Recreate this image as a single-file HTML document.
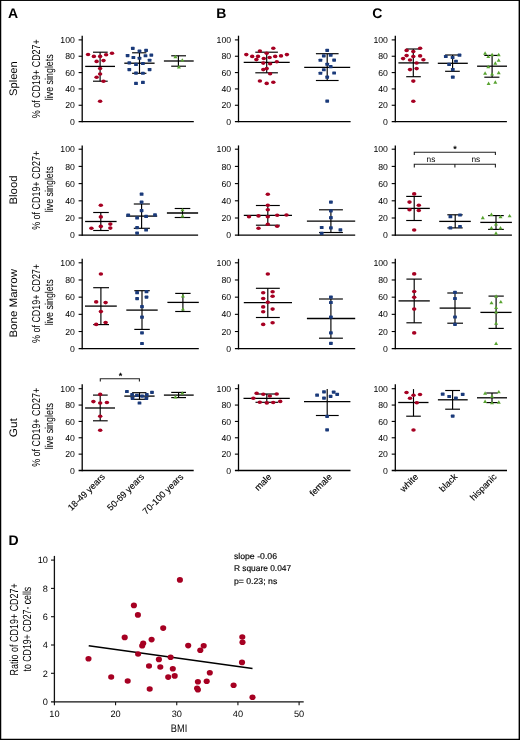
<!DOCTYPE html>
<html><head><meta charset="utf-8"><title>Figure</title>
<style>
html,body{margin:0;padding:0;background:#fff;-webkit-font-smoothing:antialiased;}
body{width:520px;height:740px;overflow:hidden;position:relative;}
svg{position:absolute;left:0;top:0;display:block;will-change:transform;}
text{font-family:"Liberation Sans", sans-serif;fill:#000;text-rendering:geometricPrecision;}
.tk{font-size:8.7px;}
.tkx{font-size:9.2px;}
.cat{font-size:9.1px;stroke:#000;stroke-width:0.12px;}
.row{font-size:10.9px;}
.yl{font-size:11.4px;}
.yl2{font-size:11.7px;}
.pl{font-size:14px;font-weight:bold;fill:#000;}
.ns{font-size:8.3px;}
.star{font-size:9px;font-weight:bold;}
.st{font-size:8.4px;stroke:#000;stroke-width:0.15px;}
.bmi{font-size:11px;}
</style></head>
<body>
<svg width="520" height="740" viewBox="0 0 520 740">
<rect x="0" y="0" width="520" height="740" fill="#fff"/>
<rect x="0" y="0" width="1.25" height="740" fill="#000"/><rect x="0" y="0" width="520" height="0.95" fill="#000"/><rect x="518.6" y="0" width="1.4" height="740" fill="#000"/><rect x="0" y="738.75" width="520" height="1.25" fill="#000"/>
<path d="M82.2 35.7V122.25" stroke="#000" stroke-width="1.3" fill="none"/>
<path d="M78.6 121.6H193.8" stroke="#000" stroke-width="1.3" fill="none"/>
<text x="74.8" y="124.7" text-anchor="end" class="tk">0</text>
<path d="M78.6 105.26H82.2" stroke="#000" stroke-width="1.1" fill="none"/>
<text x="74.8" y="108.36" text-anchor="end" class="tk">20</text>
<path d="M78.6 88.92H82.2" stroke="#000" stroke-width="1.1" fill="none"/>
<text x="74.8" y="92.02" text-anchor="end" class="tk">40</text>
<path d="M78.6 72.58H82.2" stroke="#000" stroke-width="1.1" fill="none"/>
<text x="74.8" y="75.68" text-anchor="end" class="tk">60</text>
<path d="M78.6 56.24H82.2" stroke="#000" stroke-width="1.1" fill="none"/>
<text x="74.8" y="59.34" text-anchor="end" class="tk">80</text>
<path d="M78.6 39.9H82.2" stroke="#000" stroke-width="1.1" fill="none"/>
<text x="74.8" y="43" text-anchor="end" class="tk">100</text>
<path d="M100.1 52.2V81.2" stroke="#000" stroke-width="1.15" fill="none"/>
<path d="M93 52.2H107.7" stroke="#000" stroke-width="1.15" fill="none"/>
<path d="M93 81.2H107.7" stroke="#000" stroke-width="1.15" fill="none"/>
<path d="M85.2 66.4H115" stroke="#000" stroke-width="1.3" fill="none"/>
<ellipse cx="88.05" cy="54.5" rx="2.25" ry="1.8" fill="#a60022"/>
<ellipse cx="93.85" cy="56.4" rx="2.25" ry="1.8" fill="#a60022"/>
<ellipse cx="100.1" cy="56.4" rx="2.25" ry="1.8" fill="#a60022"/>
<ellipse cx="106.1" cy="54.8" rx="2.25" ry="1.8" fill="#a60022"/>
<ellipse cx="112" cy="53.2" rx="2.25" ry="1.8" fill="#a60022"/>
<ellipse cx="96.6" cy="61.4" rx="2.25" ry="1.8" fill="#a60022"/>
<ellipse cx="103.5" cy="60.6" rx="2.25" ry="1.8" fill="#a60022"/>
<ellipse cx="100.1" cy="68.5" rx="2.25" ry="1.8" fill="#a60022"/>
<ellipse cx="100.1" cy="74" rx="2.25" ry="1.8" fill="#a60022"/>
<ellipse cx="96.6" cy="77.3" rx="2.25" ry="1.8" fill="#a60022"/>
<ellipse cx="103.5" cy="81.2" rx="2.25" ry="1.8" fill="#a60022"/>
<ellipse cx="100.1" cy="101.2" rx="2.25" ry="1.8" fill="#a60022"/>
<path d="M139.5 52.8V73.3" stroke="#000" stroke-width="1.15" fill="none"/>
<path d="M132.1 52.8H146.4" stroke="#000" stroke-width="1.15" fill="none"/>
<path d="M132.1 73.3H146.4" stroke="#000" stroke-width="1.15" fill="none"/>
<path d="M124.3 63.2H154.6" stroke="#000" stroke-width="1.3" fill="none"/>
<rect x="130.93" y="46.82" width="3.75" height="3.15" rx="0.6" fill="#1a3a7a"/>
<rect x="137.62" y="49.62" width="3.75" height="3.15" rx="0.6" fill="#1a3a7a"/>
<rect x="144.22" y="48.82" width="3.75" height="3.15" rx="0.6" fill="#1a3a7a"/>
<rect x="125.72" y="54.02" width="3.75" height="3.15" rx="0.6" fill="#1a3a7a"/>
<rect x="131.53" y="55.92" width="3.75" height="3.15" rx="0.6" fill="#1a3a7a"/>
<rect x="137.62" y="56.72" width="3.75" height="3.15" rx="0.6" fill="#1a3a7a"/>
<rect x="143.62" y="54.22" width="3.75" height="3.15" rx="0.6" fill="#1a3a7a"/>
<rect x="149.43" y="53.52" width="3.75" height="3.15" rx="0.6" fill="#1a3a7a"/>
<rect x="147.72" y="58.72" width="3.75" height="3.15" rx="0.6" fill="#1a3a7a"/>
<rect x="127.43" y="61.32" width="3.75" height="3.15" rx="0.6" fill="#1a3a7a"/>
<rect x="134.12" y="62.83" width="3.75" height="3.15" rx="0.6" fill="#1a3a7a"/>
<rect x="141.03" y="61.92" width="3.75" height="3.15" rx="0.6" fill="#1a3a7a"/>
<rect x="127.43" y="68.02" width="3.75" height="3.15" rx="0.6" fill="#1a3a7a"/>
<rect x="147.72" y="68.02" width="3.75" height="3.15" rx="0.6" fill="#1a3a7a"/>
<rect x="134.12" y="71.52" width="3.75" height="3.15" rx="0.6" fill="#1a3a7a"/>
<rect x="141.03" y="71.72" width="3.75" height="3.15" rx="0.6" fill="#1a3a7a"/>
<rect x="134.12" y="81.83" width="3.75" height="3.15" rx="0.6" fill="#1a3a7a"/>
<rect x="141.03" y="80.83" width="3.75" height="3.15" rx="0.6" fill="#1a3a7a"/>
<path d="M178.4 55.8V66.2" stroke="#000" stroke-width="1.15" fill="none"/>
<path d="M171.2 55.8H186" stroke="#000" stroke-width="1.15" fill="none"/>
<path d="M171.2 66.2H186" stroke="#000" stroke-width="1.15" fill="none"/>
<path d="M163.9 61H193.7" stroke="#000" stroke-width="1.3" fill="none"/>
<path d="M175.4 54.83L177.4 58.23L173.4 58.23Z" fill="#58a330"/>
<path d="M182.3 58.13L184.3 61.53L180.3 61.53Z" fill="#58a330"/>
<path d="M178.9 65.03L180.9 68.43L176.9 68.43Z" fill="#58a330"/>
<path d="M238.5 35.7V122.25" stroke="#000" stroke-width="1.3" fill="none"/>
<path d="M234.9 121.6H350.6" stroke="#000" stroke-width="1.3" fill="none"/>
<text x="231.1" y="124.7" text-anchor="end" class="tk">0</text>
<path d="M234.9 105.26H238.5" stroke="#000" stroke-width="1.1" fill="none"/>
<text x="231.1" y="108.36" text-anchor="end" class="tk">20</text>
<path d="M234.9 88.92H238.5" stroke="#000" stroke-width="1.1" fill="none"/>
<text x="231.1" y="92.02" text-anchor="end" class="tk">40</text>
<path d="M234.9 72.58H238.5" stroke="#000" stroke-width="1.1" fill="none"/>
<text x="231.1" y="75.68" text-anchor="end" class="tk">60</text>
<path d="M234.9 56.24H238.5" stroke="#000" stroke-width="1.1" fill="none"/>
<text x="231.1" y="59.34" text-anchor="end" class="tk">80</text>
<path d="M234.9 39.9H238.5" stroke="#000" stroke-width="1.1" fill="none"/>
<text x="231.1" y="43" text-anchor="end" class="tk">100</text>
<path d="M266.7 52.2V72.8" stroke="#000" stroke-width="1.15" fill="none"/>
<path d="M255.3 52.2H277.9" stroke="#000" stroke-width="1.15" fill="none"/>
<path d="M255.3 72.8H277.9" stroke="#000" stroke-width="1.15" fill="none"/>
<path d="M243.7 62.4H289.7" stroke="#000" stroke-width="1.3" fill="none"/>
<ellipse cx="273.3" cy="48.2" rx="2.25" ry="1.8" fill="#a60022"/>
<ellipse cx="259.9" cy="51.1" rx="2.25" ry="1.8" fill="#a60022"/>
<ellipse cx="266.7" cy="53.2" rx="2.25" ry="1.8" fill="#a60022"/>
<ellipse cx="246.3" cy="54.6" rx="2.25" ry="1.8" fill="#a60022"/>
<ellipse cx="252.2" cy="56.4" rx="2.25" ry="1.8" fill="#a60022"/>
<ellipse cx="258" cy="56.4" rx="2.25" ry="1.8" fill="#a60022"/>
<ellipse cx="256.4" cy="59.6" rx="2.25" ry="1.8" fill="#a60022"/>
<ellipse cx="263.8" cy="58.5" rx="2.25" ry="1.8" fill="#a60022"/>
<ellipse cx="269.6" cy="57.5" rx="2.25" ry="1.8" fill="#a60022"/>
<ellipse cx="275.2" cy="56.4" rx="2.25" ry="1.8" fill="#a60022"/>
<ellipse cx="281" cy="55.9" rx="2.25" ry="1.8" fill="#a60022"/>
<ellipse cx="286.9" cy="54.6" rx="2.25" ry="1.8" fill="#a60022"/>
<ellipse cx="276.8" cy="61.7" rx="2.25" ry="1.8" fill="#a60022"/>
<ellipse cx="263.3" cy="63.1" rx="2.25" ry="1.8" fill="#a60022"/>
<ellipse cx="270.1" cy="63.8" rx="2.25" ry="1.8" fill="#a60022"/>
<ellipse cx="263.3" cy="69.6" rx="2.25" ry="1.8" fill="#a60022"/>
<ellipse cx="266.7" cy="68.6" rx="2.25" ry="1.8" fill="#a60022"/>
<ellipse cx="270.1" cy="73.8" rx="2.25" ry="1.8" fill="#a60022"/>
<ellipse cx="259.9" cy="81" rx="2.25" ry="1.8" fill="#a60022"/>
<ellipse cx="266.7" cy="83.4" rx="2.25" ry="1.8" fill="#a60022"/>
<ellipse cx="273.3" cy="82.3" rx="2.25" ry="1.8" fill="#a60022"/>
<path d="M327.2 53.7V80.5" stroke="#000" stroke-width="1.15" fill="none"/>
<path d="M315.9 53.7H338.6" stroke="#000" stroke-width="1.15" fill="none"/>
<path d="M315.9 80.5H338.6" stroke="#000" stroke-width="1.15" fill="none"/>
<path d="M304.2 67.3H350.2" stroke="#000" stroke-width="1.3" fill="none"/>
<rect x="325.32" y="48.82" width="3.75" height="3.15" rx="0.6" fill="#1a3a7a"/>
<rect x="321.93" y="54.32" width="3.75" height="3.15" rx="0.6" fill="#1a3a7a"/>
<rect x="328.82" y="53.72" width="3.75" height="3.15" rx="0.6" fill="#1a3a7a"/>
<rect x="318.52" y="58.72" width="3.75" height="3.15" rx="0.6" fill="#1a3a7a"/>
<rect x="332.23" y="58.52" width="3.75" height="3.15" rx="0.6" fill="#1a3a7a"/>
<rect x="325.32" y="62.72" width="3.75" height="3.15" rx="0.6" fill="#1a3a7a"/>
<rect x="328.82" y="65.12" width="3.75" height="3.15" rx="0.6" fill="#1a3a7a"/>
<rect x="321.93" y="68.22" width="3.75" height="3.15" rx="0.6" fill="#1a3a7a"/>
<rect x="318.52" y="71.72" width="3.75" height="3.15" rx="0.6" fill="#1a3a7a"/>
<rect x="332.23" y="71.42" width="3.75" height="3.15" rx="0.6" fill="#1a3a7a"/>
<rect x="325.32" y="75.62" width="3.75" height="3.15" rx="0.6" fill="#1a3a7a"/>
<rect x="325.32" y="99.52" width="3.75" height="3.15" rx="0.6" fill="#1a3a7a"/>
<path d="M395.3 35.7V122.25" stroke="#000" stroke-width="1.3" fill="none"/>
<path d="M391.7 121.6H506.9" stroke="#000" stroke-width="1.3" fill="none"/>
<text x="387.9" y="124.7" text-anchor="end" class="tk">0</text>
<path d="M391.7 105.26H395.3" stroke="#000" stroke-width="1.1" fill="none"/>
<text x="387.9" y="108.36" text-anchor="end" class="tk">20</text>
<path d="M391.7 88.92H395.3" stroke="#000" stroke-width="1.1" fill="none"/>
<text x="387.9" y="92.02" text-anchor="end" class="tk">40</text>
<path d="M391.7 72.58H395.3" stroke="#000" stroke-width="1.1" fill="none"/>
<text x="387.9" y="75.68" text-anchor="end" class="tk">60</text>
<path d="M391.7 56.24H395.3" stroke="#000" stroke-width="1.1" fill="none"/>
<text x="387.9" y="59.34" text-anchor="end" class="tk">80</text>
<path d="M391.7 39.9H395.3" stroke="#000" stroke-width="1.1" fill="none"/>
<text x="387.9" y="43" text-anchor="end" class="tk">100</text>
<path d="M413.3 49V76.7" stroke="#000" stroke-width="1.15" fill="none"/>
<path d="M406.2 49H420.8" stroke="#000" stroke-width="1.15" fill="none"/>
<path d="M406.2 76.7H420.8" stroke="#000" stroke-width="1.15" fill="none"/>
<path d="M398.4 62.9H428.6" stroke="#000" stroke-width="1.3" fill="none"/>
<ellipse cx="420.1" cy="48.3" rx="2.25" ry="1.8" fill="#a60022"/>
<ellipse cx="406.6" cy="50.4" rx="2.25" ry="1.8" fill="#a60022"/>
<ellipse cx="413.3" cy="51.5" rx="2.25" ry="1.8" fill="#a60022"/>
<ellipse cx="406.6" cy="55.6" rx="2.25" ry="1.8" fill="#a60022"/>
<ellipse cx="413.3" cy="56.5" rx="2.25" ry="1.8" fill="#a60022"/>
<ellipse cx="420.1" cy="55.9" rx="2.25" ry="1.8" fill="#a60022"/>
<ellipse cx="403.1" cy="58.6" rx="2.25" ry="1.8" fill="#a60022"/>
<ellipse cx="410" cy="60" rx="2.25" ry="1.8" fill="#a60022"/>
<ellipse cx="423.4" cy="59.7" rx="2.25" ry="1.8" fill="#a60022"/>
<ellipse cx="416.6" cy="63" rx="2.25" ry="1.8" fill="#a60022"/>
<ellipse cx="410" cy="69.6" rx="2.25" ry="1.8" fill="#a60022"/>
<ellipse cx="416.6" cy="68.6" rx="2.25" ry="1.8" fill="#a60022"/>
<ellipse cx="413.3" cy="81.1" rx="2.25" ry="1.8" fill="#a60022"/>
<ellipse cx="413.3" cy="101.2" rx="2.25" ry="1.8" fill="#a60022"/>
<path d="M452.6 55V71.3" stroke="#000" stroke-width="1.15" fill="none"/>
<path d="M445.1 55H459.8" stroke="#000" stroke-width="1.15" fill="none"/>
<path d="M445.1 71.3H459.8" stroke="#000" stroke-width="1.15" fill="none"/>
<path d="M437.8 63.3H467.8" stroke="#000" stroke-width="1.3" fill="none"/>
<rect x="443.93" y="54.92" width="3.75" height="3.15" rx="0.6" fill="#1a3a7a"/>
<rect x="450.73" y="55.92" width="3.75" height="3.15" rx="0.6" fill="#1a3a7a"/>
<rect x="457.62" y="53.62" width="3.75" height="3.15" rx="0.6" fill="#1a3a7a"/>
<rect x="454.12" y="59.72" width="3.75" height="3.15" rx="0.6" fill="#1a3a7a"/>
<rect x="447.23" y="62.83" width="3.75" height="3.15" rx="0.6" fill="#1a3a7a"/>
<rect x="450.93" y="68.02" width="3.75" height="3.15" rx="0.6" fill="#1a3a7a"/>
<rect x="450.93" y="75.62" width="3.75" height="3.15" rx="0.6" fill="#1a3a7a"/>
<path d="M492.1 55.4V77.2" stroke="#000" stroke-width="1.15" fill="none"/>
<path d="M484.3 55.4H499.4" stroke="#000" stroke-width="1.15" fill="none"/>
<path d="M484.3 77.2H499.4" stroke="#000" stroke-width="1.15" fill="none"/>
<path d="M477.1 66.2H507" stroke="#000" stroke-width="1.3" fill="none"/>
<path d="M485.1 51.23L487.1 54.63L483.1 54.63Z" fill="#58a330"/>
<path d="M492.1 52.73L494.1 56.13L490.1 56.13Z" fill="#58a330"/>
<path d="M498.7 52.73L500.7 56.13L496.7 56.13Z" fill="#58a330"/>
<path d="M488.3 54.63L490.3 58.03L486.3 58.03Z" fill="#58a330"/>
<path d="M498.7 58.33L500.7 61.73L496.7 61.73Z" fill="#58a330"/>
<path d="M495.3 61.33L497.3 64.73L493.3 64.73Z" fill="#58a330"/>
<path d="M488.3 64.83L490.3 68.23L486.3 68.23Z" fill="#58a330"/>
<path d="M485.1 71.33L487.1 74.73L483.1 74.73Z" fill="#58a330"/>
<path d="M492.1 72.13L494.1 75.53L490.1 75.53Z" fill="#58a330"/>
<path d="M498.7 70.83L500.7 74.23L496.7 74.23Z" fill="#58a330"/>
<path d="M488.6 81.53L490.6 84.93L486.6 84.93Z" fill="#58a330"/>
<path d="M495.3 80.33L497.3 83.73L493.3 83.73Z" fill="#58a330"/>
<text transform="translate(16.6 78.6) rotate(-90)" text-anchor="middle" class="row" textLength="34.6" lengthAdjust="spacingAndGlyphs">Spleen</text>
<text transform="translate(39.9 78.75) rotate(-90)" text-anchor="middle" class="yl" textLength="79" lengthAdjust="spacingAndGlyphs">% of CD19+ CD27+</text>
<text transform="translate(53.3 77.25) rotate(-90)" text-anchor="middle" class="yl" textLength="46" lengthAdjust="spacingAndGlyphs">live singlets</text>
<path d="M82.2 145.4V235.85" stroke="#000" stroke-width="1.3" fill="none"/>
<path d="M78.6 235.2H198.1" stroke="#000" stroke-width="1.3" fill="none"/>
<text x="74.8" y="238.3" text-anchor="end" class="tk">0</text>
<path d="M78.6 218H82.2" stroke="#000" stroke-width="1.1" fill="none"/>
<text x="74.8" y="221.1" text-anchor="end" class="tk">20</text>
<path d="M78.6 200.8H82.2" stroke="#000" stroke-width="1.1" fill="none"/>
<text x="74.8" y="203.9" text-anchor="end" class="tk">40</text>
<path d="M78.6 183.6H82.2" stroke="#000" stroke-width="1.1" fill="none"/>
<text x="74.8" y="186.7" text-anchor="end" class="tk">60</text>
<path d="M78.6 166.4H82.2" stroke="#000" stroke-width="1.1" fill="none"/>
<text x="74.8" y="169.5" text-anchor="end" class="tk">80</text>
<path d="M78.6 149.2H82.2" stroke="#000" stroke-width="1.1" fill="none"/>
<text x="74.8" y="152.3" text-anchor="end" class="tk">100</text>
<path d="M100.8 212.5V230.5" stroke="#000" stroke-width="1.15" fill="none"/>
<path d="M93.2 212.5H108.8" stroke="#000" stroke-width="1.15" fill="none"/>
<path d="M93.2 230.5H108.8" stroke="#000" stroke-width="1.15" fill="none"/>
<path d="M85.1 221.5H116.6" stroke="#000" stroke-width="1.3" fill="none"/>
<ellipse cx="100.8" cy="205.2" rx="2.25" ry="1.8" fill="#a60022"/>
<ellipse cx="100.8" cy="216.9" rx="2.25" ry="1.8" fill="#a60022"/>
<ellipse cx="100.8" cy="226.4" rx="2.25" ry="1.8" fill="#a60022"/>
<ellipse cx="91.4" cy="228.3" rx="2.25" ry="1.8" fill="#a60022"/>
<ellipse cx="110.3" cy="224.1" rx="2.25" ry="1.8" fill="#a60022"/>
<ellipse cx="110.3" cy="228.1" rx="2.25" ry="1.8" fill="#a60022"/>
<path d="M141.6 204V228.3" stroke="#000" stroke-width="1.15" fill="none"/>
<path d="M133.8 204H149.9" stroke="#000" stroke-width="1.15" fill="none"/>
<path d="M133.8 228.3H149.9" stroke="#000" stroke-width="1.15" fill="none"/>
<path d="M126.2 216.1H157.2" stroke="#000" stroke-width="1.3" fill="none"/>
<rect x="139.72" y="192.62" width="3.75" height="3.15" rx="0.6" fill="#1a3a7a"/>
<rect x="139.72" y="200.53" width="3.75" height="3.15" rx="0.6" fill="#1a3a7a"/>
<rect x="139.72" y="209.03" width="3.75" height="3.15" rx="0.6" fill="#1a3a7a"/>
<rect x="126.32" y="213.53" width="3.75" height="3.15" rx="0.6" fill="#1a3a7a"/>
<rect x="135.22" y="216.33" width="3.75" height="3.15" rx="0.6" fill="#1a3a7a"/>
<rect x="144.22" y="214.83" width="3.75" height="3.15" rx="0.6" fill="#1a3a7a"/>
<rect x="153.12" y="213.33" width="3.75" height="3.15" rx="0.6" fill="#1a3a7a"/>
<rect x="135.22" y="226.03" width="3.75" height="3.15" rx="0.6" fill="#1a3a7a"/>
<rect x="144.22" y="228.43" width="3.75" height="3.15" rx="0.6" fill="#1a3a7a"/>
<rect x="135.22" y="231.53" width="3.75" height="3.15" rx="0.6" fill="#1a3a7a"/>
<path d="M182.5 208.5V217.5" stroke="#000" stroke-width="1.15" fill="none"/>
<path d="M174.7 208.5H190.3" stroke="#000" stroke-width="1.15" fill="none"/>
<path d="M174.7 217.5H190.3" stroke="#000" stroke-width="1.15" fill="none"/>
<path d="M166.9 213H198.1" stroke="#000" stroke-width="1.3" fill="none"/>
<path d="M182.5 207.93L184.5 211.33L180.5 211.33Z" fill="#58a330"/>
<path d="M182.5 214.03L184.5 217.43L180.5 217.43Z" fill="#58a330"/>
<path d="M238.5 145.4V235.85" stroke="#000" stroke-width="1.3" fill="none"/>
<path d="M234.9 235.2H355.2" stroke="#000" stroke-width="1.3" fill="none"/>
<text x="231.1" y="238.3" text-anchor="end" class="tk">0</text>
<path d="M234.9 218H238.5" stroke="#000" stroke-width="1.1" fill="none"/>
<text x="231.1" y="221.1" text-anchor="end" class="tk">20</text>
<path d="M234.9 200.8H238.5" stroke="#000" stroke-width="1.1" fill="none"/>
<text x="231.1" y="203.9" text-anchor="end" class="tk">40</text>
<path d="M234.9 183.6H238.5" stroke="#000" stroke-width="1.1" fill="none"/>
<text x="231.1" y="186.7" text-anchor="end" class="tk">60</text>
<path d="M234.9 166.4H238.5" stroke="#000" stroke-width="1.1" fill="none"/>
<text x="231.1" y="169.5" text-anchor="end" class="tk">80</text>
<path d="M234.9 149.2H238.5" stroke="#000" stroke-width="1.1" fill="none"/>
<text x="231.1" y="152.3" text-anchor="end" class="tk">100</text>
<path d="M267.8 205.5V225.2" stroke="#000" stroke-width="1.15" fill="none"/>
<path d="M255.9 205.5H279.8" stroke="#000" stroke-width="1.15" fill="none"/>
<path d="M255.9 225.2H279.8" stroke="#000" stroke-width="1.15" fill="none"/>
<path d="M243.8 215.3H292" stroke="#000" stroke-width="1.3" fill="none"/>
<ellipse cx="267.8" cy="194.2" rx="2.25" ry="1.8" fill="#a60022"/>
<ellipse cx="267.8" cy="205.2" rx="2.25" ry="1.8" fill="#a60022"/>
<ellipse cx="267.8" cy="209.8" rx="2.25" ry="1.8" fill="#a60022"/>
<ellipse cx="249" cy="216.7" rx="2.25" ry="1.8" fill="#a60022"/>
<ellipse cx="258.5" cy="215.9" rx="2.25" ry="1.8" fill="#a60022"/>
<ellipse cx="267.8" cy="216.7" rx="2.25" ry="1.8" fill="#a60022"/>
<ellipse cx="277.2" cy="215.3" rx="2.25" ry="1.8" fill="#a60022"/>
<ellipse cx="286.5" cy="215" rx="2.25" ry="1.8" fill="#a60022"/>
<ellipse cx="267.8" cy="224.2" rx="2.25" ry="1.8" fill="#a60022"/>
<ellipse cx="258.5" cy="228.3" rx="2.25" ry="1.8" fill="#a60022"/>
<ellipse cx="277.2" cy="226.3" rx="2.25" ry="1.8" fill="#a60022"/>
<path d="M330.9 209.8V232.5" stroke="#000" stroke-width="1.15" fill="none"/>
<path d="M319 209.8H342.9" stroke="#000" stroke-width="1.15" fill="none"/>
<path d="M319 232.5H342.9" stroke="#000" stroke-width="1.15" fill="none"/>
<path d="M306.9 221.2H355.2" stroke="#000" stroke-width="1.3" fill="none"/>
<rect x="329.02" y="200.53" width="3.75" height="3.15" rx="0.6" fill="#1a3a7a"/>
<rect x="329.02" y="209.23" width="3.75" height="3.15" rx="0.6" fill="#1a3a7a"/>
<rect x="329.02" y="216.12" width="3.75" height="3.15" rx="0.6" fill="#1a3a7a"/>
<rect x="319.82" y="225.93" width="3.75" height="3.15" rx="0.6" fill="#1a3a7a"/>
<rect x="329.02" y="226.23" width="3.75" height="3.15" rx="0.6" fill="#1a3a7a"/>
<rect x="338.52" y="228.23" width="3.75" height="3.15" rx="0.6" fill="#1a3a7a"/>
<rect x="319.82" y="231.73" width="3.75" height="3.15" rx="0.6" fill="#1a3a7a"/>
<path d="M395.3 145.4V235.85" stroke="#000" stroke-width="1.3" fill="none"/>
<path d="M391.7 235.2H511.9" stroke="#000" stroke-width="1.3" fill="none"/>
<text x="387.9" y="238.3" text-anchor="end" class="tk">0</text>
<path d="M391.7 218H395.3" stroke="#000" stroke-width="1.1" fill="none"/>
<text x="387.9" y="221.1" text-anchor="end" class="tk">20</text>
<path d="M391.7 200.8H395.3" stroke="#000" stroke-width="1.1" fill="none"/>
<text x="387.9" y="203.9" text-anchor="end" class="tk">40</text>
<path d="M391.7 183.6H395.3" stroke="#000" stroke-width="1.1" fill="none"/>
<text x="387.9" y="186.7" text-anchor="end" class="tk">60</text>
<path d="M391.7 166.4H395.3" stroke="#000" stroke-width="1.1" fill="none"/>
<text x="387.9" y="169.5" text-anchor="end" class="tk">80</text>
<path d="M391.7 149.2H395.3" stroke="#000" stroke-width="1.1" fill="none"/>
<text x="387.9" y="152.3" text-anchor="end" class="tk">100</text>
<path d="M414.2 196.4V220.5" stroke="#000" stroke-width="1.15" fill="none"/>
<path d="M406.2 196.4H421.8" stroke="#000" stroke-width="1.15" fill="none"/>
<path d="M406.2 220.5H421.8" stroke="#000" stroke-width="1.15" fill="none"/>
<path d="M398.3 208.4H429.8" stroke="#000" stroke-width="1.3" fill="none"/>
<ellipse cx="414.2" cy="193.9" rx="2.25" ry="1.8" fill="#a60022"/>
<ellipse cx="409.5" cy="202.1" rx="2.25" ry="1.8" fill="#a60022"/>
<ellipse cx="418.8" cy="205.2" rx="2.25" ry="1.8" fill="#a60022"/>
<ellipse cx="409.5" cy="209.7" rx="2.25" ry="1.8" fill="#a60022"/>
<ellipse cx="418.8" cy="210.5" rx="2.25" ry="1.8" fill="#a60022"/>
<ellipse cx="414.2" cy="230" rx="2.25" ry="1.8" fill="#a60022"/>
<path d="M455.2 214.8V227.9" stroke="#000" stroke-width="1.15" fill="none"/>
<path d="M447.3 214.8H462.7" stroke="#000" stroke-width="1.15" fill="none"/>
<path d="M447.3 227.9H462.7" stroke="#000" stroke-width="1.15" fill="none"/>
<path d="M439.2 221.4H470.8" stroke="#000" stroke-width="1.3" fill="none"/>
<rect x="448.52" y="215.12" width="3.75" height="3.15" rx="0.6" fill="#1a3a7a"/>
<rect x="458.12" y="213.43" width="3.75" height="3.15" rx="0.6" fill="#1a3a7a"/>
<rect x="448.52" y="226.33" width="3.75" height="3.15" rx="0.6" fill="#1a3a7a"/>
<rect x="458.12" y="224.93" width="3.75" height="3.15" rx="0.6" fill="#1a3a7a"/>
<path d="M496 215.6V229.4" stroke="#000" stroke-width="1.15" fill="none"/>
<path d="M488.1 215.6H503.8" stroke="#000" stroke-width="1.15" fill="none"/>
<path d="M488.1 229.4H503.8" stroke="#000" stroke-width="1.15" fill="none"/>
<path d="M480.3 222.4H511.9" stroke="#000" stroke-width="1.3" fill="none"/>
<path d="M491.4 212.53L493.4 215.93L489.4 215.93Z" fill="#58a330"/>
<path d="M482.8 215.83L484.8 219.23L480.8 219.23Z" fill="#58a330"/>
<path d="M500.5 214.73L502.5 218.13L498.5 218.13Z" fill="#58a330"/>
<path d="M509.6 213.93L511.6 217.33L507.6 217.33Z" fill="#58a330"/>
<path d="M496 222.13L498 225.53L494 225.53Z" fill="#58a330"/>
<path d="M491.4 226.03L493.4 229.43L489.4 229.43Z" fill="#58a330"/>
<path d="M500.5 226.03L502.5 229.43L498.5 229.43Z" fill="#58a330"/>
<path d="M496 231.23L498 234.63L494 234.63Z" fill="#58a330"/>
<text transform="translate(16.6 190) rotate(-90)" text-anchor="middle" class="row" textLength="29.2" lengthAdjust="spacingAndGlyphs">Blood</text>
<text transform="translate(39.9 190.35) rotate(-90)" text-anchor="middle" class="yl" textLength="79" lengthAdjust="spacingAndGlyphs">% of CD19+ CD27+</text>
<text transform="translate(53.3 189.25) rotate(-90)" text-anchor="middle" class="yl" textLength="46" lengthAdjust="spacingAndGlyphs">live singlets</text>
<path d="M82.2 258.8V349.35" stroke="#000" stroke-width="1.3" fill="none"/>
<path d="M78.6 348.7H198.8" stroke="#000" stroke-width="1.3" fill="none"/>
<text x="74.8" y="351.8" text-anchor="end" class="tk">0</text>
<path d="M78.6 331.52H82.2" stroke="#000" stroke-width="1.1" fill="none"/>
<text x="74.8" y="334.62" text-anchor="end" class="tk">20</text>
<path d="M78.6 314.34H82.2" stroke="#000" stroke-width="1.1" fill="none"/>
<text x="74.8" y="317.44" text-anchor="end" class="tk">40</text>
<path d="M78.6 297.16H82.2" stroke="#000" stroke-width="1.1" fill="none"/>
<text x="74.8" y="300.26" text-anchor="end" class="tk">60</text>
<path d="M78.6 279.98H82.2" stroke="#000" stroke-width="1.1" fill="none"/>
<text x="74.8" y="283.08" text-anchor="end" class="tk">80</text>
<path d="M78.6 262.8H82.2" stroke="#000" stroke-width="1.1" fill="none"/>
<text x="74.8" y="265.9" text-anchor="end" class="tk">100</text>
<path d="M100.9 287.7V324.6" stroke="#000" stroke-width="1.15" fill="none"/>
<path d="M93.2 287.7H109" stroke="#000" stroke-width="1.15" fill="none"/>
<path d="M93.2 324.6H109" stroke="#000" stroke-width="1.15" fill="none"/>
<path d="M85 306.1H116.8" stroke="#000" stroke-width="1.3" fill="none"/>
<ellipse cx="100.9" cy="274" rx="2.25" ry="1.8" fill="#a60022"/>
<ellipse cx="96.2" cy="301.9" rx="2.25" ry="1.8" fill="#a60022"/>
<ellipse cx="105.6" cy="302.6" rx="2.25" ry="1.8" fill="#a60022"/>
<ellipse cx="100.9" cy="311.6" rx="2.25" ry="1.8" fill="#a60022"/>
<ellipse cx="96.2" cy="324.4" rx="2.25" ry="1.8" fill="#a60022"/>
<ellipse cx="105.6" cy="322.5" rx="2.25" ry="1.8" fill="#a60022"/>
<path d="M142 290.7V329.4" stroke="#000" stroke-width="1.15" fill="none"/>
<path d="M134.3 290.7H149.8" stroke="#000" stroke-width="1.15" fill="none"/>
<path d="M134.3 329.4H149.8" stroke="#000" stroke-width="1.15" fill="none"/>
<path d="M126.3 310.1H157.7" stroke="#000" stroke-width="1.3" fill="none"/>
<rect x="135.22" y="291.12" width="3.75" height="3.15" rx="0.6" fill="#1a3a7a"/>
<rect x="144.62" y="290.12" width="3.75" height="3.15" rx="0.6" fill="#1a3a7a"/>
<rect x="135.22" y="297.03" width="3.75" height="3.15" rx="0.6" fill="#1a3a7a"/>
<rect x="144.62" y="295.53" width="3.75" height="3.15" rx="0.6" fill="#1a3a7a"/>
<rect x="140.12" y="305.12" width="3.75" height="3.15" rx="0.6" fill="#1a3a7a"/>
<rect x="140.12" y="315.62" width="3.75" height="3.15" rx="0.6" fill="#1a3a7a"/>
<rect x="140.12" y="331.23" width="3.75" height="3.15" rx="0.6" fill="#1a3a7a"/>
<rect x="140.12" y="341.93" width="3.75" height="3.15" rx="0.6" fill="#1a3a7a"/>
<path d="M182.9 293.4V311.5" stroke="#000" stroke-width="1.15" fill="none"/>
<path d="M175.2 293.4H190.6" stroke="#000" stroke-width="1.15" fill="none"/>
<path d="M175.2 311.5H190.6" stroke="#000" stroke-width="1.15" fill="none"/>
<path d="M167.4 302.4H198.8" stroke="#000" stroke-width="1.3" fill="none"/>
<path d="M182.9 294.03L184.9 297.43L180.9 297.43Z" fill="#58a330"/>
<path d="M182.9 307.13L184.9 310.53L180.9 310.53Z" fill="#58a330"/>
<path d="M238.5 258.8V349.35" stroke="#000" stroke-width="1.3" fill="none"/>
<path d="M234.9 348.7H355.2" stroke="#000" stroke-width="1.3" fill="none"/>
<text x="231.1" y="351.8" text-anchor="end" class="tk">0</text>
<path d="M234.9 331.52H238.5" stroke="#000" stroke-width="1.1" fill="none"/>
<text x="231.1" y="334.62" text-anchor="end" class="tk">20</text>
<path d="M234.9 314.34H238.5" stroke="#000" stroke-width="1.1" fill="none"/>
<text x="231.1" y="317.44" text-anchor="end" class="tk">40</text>
<path d="M234.9 297.16H238.5" stroke="#000" stroke-width="1.1" fill="none"/>
<text x="231.1" y="300.26" text-anchor="end" class="tk">60</text>
<path d="M234.9 279.98H238.5" stroke="#000" stroke-width="1.1" fill="none"/>
<text x="231.1" y="283.08" text-anchor="end" class="tk">80</text>
<path d="M234.9 262.8H238.5" stroke="#000" stroke-width="1.1" fill="none"/>
<text x="231.1" y="265.9" text-anchor="end" class="tk">100</text>
<path d="M267.8 288.3V317.5" stroke="#000" stroke-width="1.15" fill="none"/>
<path d="M255.9 288.3H279.8" stroke="#000" stroke-width="1.15" fill="none"/>
<path d="M255.9 317.5H279.8" stroke="#000" stroke-width="1.15" fill="none"/>
<path d="M243.8 302.7H292" stroke="#000" stroke-width="1.3" fill="none"/>
<ellipse cx="267.8" cy="274" rx="2.25" ry="1.8" fill="#a60022"/>
<ellipse cx="263.2" cy="292.7" rx="2.25" ry="1.8" fill="#a60022"/>
<ellipse cx="272.6" cy="291.8" rx="2.25" ry="1.8" fill="#a60022"/>
<ellipse cx="263.2" cy="298.5" rx="2.25" ry="1.8" fill="#a60022"/>
<ellipse cx="272.6" cy="296.2" rx="2.25" ry="1.8" fill="#a60022"/>
<ellipse cx="267.8" cy="302.2" rx="2.25" ry="1.8" fill="#a60022"/>
<ellipse cx="263.2" cy="306.9" rx="2.25" ry="1.8" fill="#a60022"/>
<ellipse cx="272.6" cy="309.1" rx="2.25" ry="1.8" fill="#a60022"/>
<ellipse cx="263.2" cy="311.7" rx="2.25" ry="1.8" fill="#a60022"/>
<ellipse cx="263.2" cy="324.4" rx="2.25" ry="1.8" fill="#a60022"/>
<ellipse cx="272.6" cy="322.7" rx="2.25" ry="1.8" fill="#a60022"/>
<path d="M330.9 299V338.2" stroke="#000" stroke-width="1.15" fill="none"/>
<path d="M319 299H342.9" stroke="#000" stroke-width="1.15" fill="none"/>
<path d="M319 338.2H342.9" stroke="#000" stroke-width="1.15" fill="none"/>
<path d="M306.9 318.5H355.2" stroke="#000" stroke-width="1.3" fill="none"/>
<rect x="329.02" y="295.62" width="3.75" height="3.15" rx="0.6" fill="#1a3a7a"/>
<rect x="329.02" y="300.93" width="3.75" height="3.15" rx="0.6" fill="#1a3a7a"/>
<rect x="329.02" y="315.53" width="3.75" height="3.15" rx="0.6" fill="#1a3a7a"/>
<rect x="329.02" y="331.32" width="3.75" height="3.15" rx="0.6" fill="#1a3a7a"/>
<rect x="329.02" y="341.73" width="3.75" height="3.15" rx="0.6" fill="#1a3a7a"/>
<path d="M395.3 258.8V349.35" stroke="#000" stroke-width="1.3" fill="none"/>
<path d="M391.7 348.7H511.6" stroke="#000" stroke-width="1.3" fill="none"/>
<text x="387.9" y="351.8" text-anchor="end" class="tk">0</text>
<path d="M391.7 331.52H395.3" stroke="#000" stroke-width="1.1" fill="none"/>
<text x="387.9" y="334.62" text-anchor="end" class="tk">20</text>
<path d="M391.7 314.34H395.3" stroke="#000" stroke-width="1.1" fill="none"/>
<text x="387.9" y="317.44" text-anchor="end" class="tk">40</text>
<path d="M391.7 297.16H395.3" stroke="#000" stroke-width="1.1" fill="none"/>
<text x="387.9" y="300.26" text-anchor="end" class="tk">60</text>
<path d="M391.7 279.98H395.3" stroke="#000" stroke-width="1.1" fill="none"/>
<text x="387.9" y="283.08" text-anchor="end" class="tk">80</text>
<path d="M391.7 262.8H395.3" stroke="#000" stroke-width="1.1" fill="none"/>
<text x="387.9" y="265.9" text-anchor="end" class="tk">100</text>
<path d="M414.2 279.1V322.8" stroke="#000" stroke-width="1.15" fill="none"/>
<path d="M406.4 279.1H421.8" stroke="#000" stroke-width="1.15" fill="none"/>
<path d="M406.4 322.8H421.8" stroke="#000" stroke-width="1.15" fill="none"/>
<path d="M398.5 300.9H429.8" stroke="#000" stroke-width="1.3" fill="none"/>
<ellipse cx="414.2" cy="273.9" rx="2.25" ry="1.8" fill="#a60022"/>
<ellipse cx="414.2" cy="291.5" rx="2.25" ry="1.8" fill="#a60022"/>
<ellipse cx="414.2" cy="297.2" rx="2.25" ry="1.8" fill="#a60022"/>
<ellipse cx="414.2" cy="309.1" rx="2.25" ry="1.8" fill="#a60022"/>
<ellipse cx="414.2" cy="332.9" rx="2.25" ry="1.8" fill="#a60022"/>
<path d="M455 293V323.2" stroke="#000" stroke-width="1.15" fill="none"/>
<path d="M447.3 293H463" stroke="#000" stroke-width="1.15" fill="none"/>
<path d="M447.3 323.2H463" stroke="#000" stroke-width="1.15" fill="none"/>
<path d="M439.6 308.1H470.7" stroke="#000" stroke-width="1.3" fill="none"/>
<rect x="453.12" y="290.82" width="3.75" height="3.15" rx="0.6" fill="#1a3a7a"/>
<rect x="453.12" y="296.93" width="3.75" height="3.15" rx="0.6" fill="#1a3a7a"/>
<rect x="453.12" y="315.43" width="3.75" height="3.15" rx="0.6" fill="#1a3a7a"/>
<rect x="453.12" y="322.82" width="3.75" height="3.15" rx="0.6" fill="#1a3a7a"/>
<path d="M496.1 296.1V328.4" stroke="#000" stroke-width="1.15" fill="none"/>
<path d="M488.5 296.1H503.8" stroke="#000" stroke-width="1.15" fill="none"/>
<path d="M488.5 328.4H503.8" stroke="#000" stroke-width="1.15" fill="none"/>
<path d="M480.4 312.4H511.6" stroke="#000" stroke-width="1.3" fill="none"/>
<path d="M496.1 294.23L498.1 297.63L494.1 297.63Z" fill="#58a330"/>
<path d="M491.5 300.93L493.5 304.33L489.5 304.33Z" fill="#58a330"/>
<path d="M500.8 299.93L502.8 303.33L498.8 303.33Z" fill="#58a330"/>
<path d="M496.1 305.53L498.1 308.93L494.1 308.93Z" fill="#58a330"/>
<path d="M496.1 310.13L498.1 313.53L494.1 313.53Z" fill="#58a330"/>
<path d="M496.1 321.23L498.1 324.63L494.1 324.63Z" fill="#58a330"/>
<path d="M496.1 341.53L498.1 344.93L494.1 344.93Z" fill="#58a330"/>
<text transform="translate(16.6 303.3) rotate(-90)" text-anchor="middle" class="row" textLength="68.6" lengthAdjust="spacingAndGlyphs">Bone Marrow</text>
<text transform="translate(39.9 303.45) rotate(-90)" text-anchor="middle" class="yl" textLength="79" lengthAdjust="spacingAndGlyphs">% of CD19+ CD27+</text>
<text transform="translate(53.3 302.3) rotate(-90)" text-anchor="middle" class="yl" textLength="46" lengthAdjust="spacingAndGlyphs">live singlets</text>
<path d="M82.2 384.3V471.15" stroke="#000" stroke-width="1.3" fill="none"/>
<path d="M78.6 470.5H193.7" stroke="#000" stroke-width="1.3" fill="none"/>
<text x="74.8" y="473.6" text-anchor="end" class="tk">0</text>
<path d="M78.6 454.14H82.2" stroke="#000" stroke-width="1.1" fill="none"/>
<text x="74.8" y="457.24" text-anchor="end" class="tk">20</text>
<path d="M78.6 437.78H82.2" stroke="#000" stroke-width="1.1" fill="none"/>
<text x="74.8" y="440.88" text-anchor="end" class="tk">40</text>
<path d="M78.6 421.42H82.2" stroke="#000" stroke-width="1.1" fill="none"/>
<text x="74.8" y="424.52" text-anchor="end" class="tk">60</text>
<path d="M78.6 405.06H82.2" stroke="#000" stroke-width="1.1" fill="none"/>
<text x="74.8" y="408.16" text-anchor="end" class="tk">80</text>
<path d="M78.6 388.7H82.2" stroke="#000" stroke-width="1.1" fill="none"/>
<text x="74.8" y="391.8" text-anchor="end" class="tk">100</text>
<path d="M100.2 395.1V420.8" stroke="#000" stroke-width="1.15" fill="none"/>
<path d="M93 395.1H107.7" stroke="#000" stroke-width="1.15" fill="none"/>
<path d="M93 420.8H107.7" stroke="#000" stroke-width="1.15" fill="none"/>
<path d="M85.1 408H115" stroke="#000" stroke-width="1.3" fill="none"/>
<ellipse cx="100.2" cy="394.4" rx="2.25" ry="1.8" fill="#a60022"/>
<ellipse cx="93.4" cy="401.6" rx="2.25" ry="1.8" fill="#a60022"/>
<ellipse cx="100.2" cy="403" rx="2.25" ry="1.8" fill="#a60022"/>
<ellipse cx="106.9" cy="402.5" rx="2.25" ry="1.8" fill="#a60022"/>
<ellipse cx="100.2" cy="416.2" rx="2.25" ry="1.8" fill="#a60022"/>
<ellipse cx="100.2" cy="430.2" rx="2.25" ry="1.8" fill="#a60022"/>
<path d="M139.5 392.7V399.3" stroke="#000" stroke-width="1.15" fill="none"/>
<path d="M132.1 392.7H146.4" stroke="#000" stroke-width="1.15" fill="none"/>
<path d="M132.1 399.3H146.4" stroke="#000" stroke-width="1.15" fill="none"/>
<path d="M124.3 396.1H154.6" stroke="#000" stroke-width="1.3" fill="none"/>
<rect x="125.03" y="389.93" width="3.75" height="3.15" rx="0.6" fill="#1a3a7a"/>
<rect x="150.12" y="390.82" width="3.75" height="3.15" rx="0.6" fill="#1a3a7a"/>
<rect x="130.22" y="393.12" width="3.75" height="3.15" rx="0.6" fill="#1a3a7a"/>
<rect x="135.03" y="393.73" width="3.75" height="3.15" rx="0.6" fill="#1a3a7a"/>
<rect x="140.22" y="394.53" width="3.75" height="3.15" rx="0.6" fill="#1a3a7a"/>
<rect x="144.93" y="393.12" width="3.75" height="3.15" rx="0.6" fill="#1a3a7a"/>
<rect x="130.62" y="396.73" width="3.75" height="3.15" rx="0.6" fill="#1a3a7a"/>
<rect x="144.53" y="396.73" width="3.75" height="3.15" rx="0.6" fill="#1a3a7a"/>
<rect x="137.62" y="401.43" width="3.75" height="3.15" rx="0.6" fill="#1a3a7a"/>
<path d="M178.6 392.4V397.6" stroke="#000" stroke-width="1.15" fill="none"/>
<path d="M171.2 392.4H186" stroke="#000" stroke-width="1.15" fill="none"/>
<path d="M171.2 397.6H186" stroke="#000" stroke-width="1.15" fill="none"/>
<path d="M163.9 395.1H193.7" stroke="#000" stroke-width="1.3" fill="none"/>
<path d="M182.3 391.13L184.3 394.53L180.3 394.53Z" fill="#58a330"/>
<path d="M175.4 395.03L177.4 398.43L173.4 398.43Z" fill="#58a330"/>
<text transform="translate(105.5 477.4) rotate(-45)" text-anchor="end" class="cat">18-49 years</text>
<text transform="translate(144.8 477.4) rotate(-45)" text-anchor="end" class="cat">50-69 years</text>
<text transform="translate(183.9 477.4) rotate(-45)" text-anchor="end" class="cat">70-100 years</text>
<path d="M238.5 384.3V471.15" stroke="#000" stroke-width="1.3" fill="none"/>
<path d="M234.9 470.5H350.5" stroke="#000" stroke-width="1.3" fill="none"/>
<text x="231.1" y="473.6" text-anchor="end" class="tk">0</text>
<path d="M234.9 454.14H238.5" stroke="#000" stroke-width="1.1" fill="none"/>
<text x="231.1" y="457.24" text-anchor="end" class="tk">20</text>
<path d="M234.9 437.78H238.5" stroke="#000" stroke-width="1.1" fill="none"/>
<text x="231.1" y="440.88" text-anchor="end" class="tk">40</text>
<path d="M234.9 421.42H238.5" stroke="#000" stroke-width="1.1" fill="none"/>
<text x="231.1" y="424.52" text-anchor="end" class="tk">60</text>
<path d="M234.9 405.06H238.5" stroke="#000" stroke-width="1.1" fill="none"/>
<text x="231.1" y="408.16" text-anchor="end" class="tk">80</text>
<path d="M234.9 388.7H238.5" stroke="#000" stroke-width="1.1" fill="none"/>
<text x="231.1" y="391.8" text-anchor="end" class="tk">100</text>
<path d="M266.8 394V402.3" stroke="#000" stroke-width="1.15" fill="none"/>
<path d="M255.5 394H278.1" stroke="#000" stroke-width="1.15" fill="none"/>
<path d="M255.5 402.3H278.1" stroke="#000" stroke-width="1.15" fill="none"/>
<path d="M243.5 398.3H289.8" stroke="#000" stroke-width="1.3" fill="none"/>
<ellipse cx="256.7" cy="393.3" rx="2.25" ry="1.8" fill="#a60022"/>
<ellipse cx="263.3" cy="394.2" rx="2.25" ry="1.8" fill="#a60022"/>
<ellipse cx="269.8" cy="396" rx="2.25" ry="1.8" fill="#a60022"/>
<ellipse cx="276.7" cy="394" rx="2.25" ry="1.8" fill="#a60022"/>
<ellipse cx="253.3" cy="398.3" rx="2.25" ry="1.8" fill="#a60022"/>
<ellipse cx="259.8" cy="402.3" rx="2.25" ry="1.8" fill="#a60022"/>
<ellipse cx="266.8" cy="402.9" rx="2.25" ry="1.8" fill="#a60022"/>
<ellipse cx="273.2" cy="402.5" rx="2.25" ry="1.8" fill="#a60022"/>
<ellipse cx="280.2" cy="401.4" rx="2.25" ry="1.8" fill="#a60022"/>
<path d="M327.2 389V415.5" stroke="#000" stroke-width="1.15" fill="none"/>
<path d="M315.9 415.5H338.7" stroke="#000" stroke-width="1.15" fill="none"/>
<path d="M304 401.7H350.4" stroke="#000" stroke-width="1.3" fill="none"/>
<rect x="315.23" y="393.62" width="3.75" height="3.15" rx="0.6" fill="#1a3a7a"/>
<rect x="322.12" y="390.23" width="3.75" height="3.15" rx="0.6" fill="#1a3a7a"/>
<rect x="322.12" y="396.53" width="3.75" height="3.15" rx="0.6" fill="#1a3a7a"/>
<rect x="328.73" y="394.82" width="3.75" height="3.15" rx="0.6" fill="#1a3a7a"/>
<rect x="331.82" y="390.53" width="3.75" height="3.15" rx="0.6" fill="#1a3a7a"/>
<rect x="335.32" y="392.82" width="3.75" height="3.15" rx="0.6" fill="#1a3a7a"/>
<rect x="325.23" y="414.73" width="3.75" height="3.15" rx="0.6" fill="#1a3a7a"/>
<rect x="325.23" y="428.23" width="3.75" height="3.15" rx="0.6" fill="#1a3a7a"/>
<text transform="translate(272.1 477.4) rotate(-45)" text-anchor="end" class="cat">male</text>
<text transform="translate(332.5 477.4) rotate(-45)" text-anchor="end" class="cat">female</text>
<path d="M395.3 384.3V471.15" stroke="#000" stroke-width="1.3" fill="none"/>
<path d="M391.7 470.5H507" stroke="#000" stroke-width="1.3" fill="none"/>
<text x="387.9" y="473.6" text-anchor="end" class="tk">0</text>
<path d="M391.7 454.14H395.3" stroke="#000" stroke-width="1.1" fill="none"/>
<text x="387.9" y="457.24" text-anchor="end" class="tk">20</text>
<path d="M391.7 437.78H395.3" stroke="#000" stroke-width="1.1" fill="none"/>
<text x="387.9" y="440.88" text-anchor="end" class="tk">40</text>
<path d="M391.7 421.42H395.3" stroke="#000" stroke-width="1.1" fill="none"/>
<text x="387.9" y="424.52" text-anchor="end" class="tk">60</text>
<path d="M391.7 405.06H395.3" stroke="#000" stroke-width="1.1" fill="none"/>
<text x="387.9" y="408.16" text-anchor="end" class="tk">80</text>
<path d="M391.7 388.7H395.3" stroke="#000" stroke-width="1.1" fill="none"/>
<text x="387.9" y="391.8" text-anchor="end" class="tk">100</text>
<path d="M413.5 389.1V416.2" stroke="#000" stroke-width="1.15" fill="none"/>
<path d="M406.2 416.2H420.8" stroke="#000" stroke-width="1.15" fill="none"/>
<path d="M398.2 402.5H428.5" stroke="#000" stroke-width="1.3" fill="none"/>
<ellipse cx="406.5" cy="392.5" rx="2.25" ry="1.8" fill="#a60022"/>
<ellipse cx="413.5" cy="395.2" rx="2.25" ry="1.8" fill="#a60022"/>
<ellipse cx="420" cy="394.5" rx="2.25" ry="1.8" fill="#a60022"/>
<ellipse cx="410" cy="398.3" rx="2.25" ry="1.8" fill="#a60022"/>
<ellipse cx="416.8" cy="402.8" rx="2.25" ry="1.8" fill="#a60022"/>
<ellipse cx="413.5" cy="430" rx="2.25" ry="1.8" fill="#a60022"/>
<path d="M452.6 390.5V409.2" stroke="#000" stroke-width="1.15" fill="none"/>
<path d="M445.2 390.5H460" stroke="#000" stroke-width="1.15" fill="none"/>
<path d="M445.2 409.2H460" stroke="#000" stroke-width="1.15" fill="none"/>
<path d="M437.9 399.8H467.7" stroke="#000" stroke-width="1.3" fill="none"/>
<rect x="440.82" y="392.62" width="3.75" height="3.15" rx="0.6" fill="#1a3a7a"/>
<rect x="447.32" y="394.93" width="3.75" height="3.15" rx="0.6" fill="#1a3a7a"/>
<rect x="454.02" y="396.62" width="3.75" height="3.15" rx="0.6" fill="#1a3a7a"/>
<rect x="460.82" y="392.82" width="3.75" height="3.15" rx="0.6" fill="#1a3a7a"/>
<rect x="450.82" y="414.53" width="3.75" height="3.15" rx="0.6" fill="#1a3a7a"/>
<path d="M492 393V402.6" stroke="#000" stroke-width="1.15" fill="none"/>
<path d="M486.2 393H497.8" stroke="#000" stroke-width="1.15" fill="none"/>
<path d="M486.2 402.6H497.8" stroke="#000" stroke-width="1.15" fill="none"/>
<path d="M477 397.8H507" stroke="#000" stroke-width="1.3" fill="none"/>
<path d="M485.1 391.33L487.1 394.73L483.1 394.73Z" fill="#58a330"/>
<path d="M498.8 389.93L500.8 393.33L496.8 393.33Z" fill="#58a330"/>
<path d="M492 394.43L494 397.83L490 397.83Z" fill="#58a330"/>
<path d="M485.1 399.53L487.1 402.93L483.1 402.93Z" fill="#58a330"/>
<path d="M492 400.93L494 404.33L490 404.33Z" fill="#58a330"/>
<path d="M498.8 400.33L500.8 403.73L496.8 403.73Z" fill="#58a330"/>
<text transform="translate(418.8 477.4) rotate(-45)" text-anchor="end" class="cat">white</text>
<text transform="translate(457.9 477.4) rotate(-45)" text-anchor="end" class="cat">black</text>
<text transform="translate(497.3 477.4) rotate(-45)" text-anchor="end" class="cat">hispanic</text>
<text transform="translate(16.6 427.7) rotate(-90)" text-anchor="middle" class="row" textLength="19" lengthAdjust="spacingAndGlyphs">Gut</text>
<text transform="translate(39.9 427.35) rotate(-90)" text-anchor="middle" class="yl" textLength="79" lengthAdjust="spacingAndGlyphs">% of CD19+ CD27+</text>
<text transform="translate(53.3 426.15) rotate(-90)" text-anchor="middle" class="yl" textLength="46" lengthAdjust="spacingAndGlyphs">live singlets</text>
<path d="M100.3 381.5V378.7H139.4V381.5" stroke="#222" stroke-width="1.1" fill="none"/>
<text x="120.4" y="379.2" text-anchor="middle" class="star">*</text>
<path d="M414.3 155V152.2H495.4V155" stroke="#222" stroke-width="1.1" fill="none"/>
<text x="455" y="152.2" text-anchor="middle" class="star">*</text>
<path d="M414.3 167.5V164.3H495.4V167.5M454.9 164.3V167.5" stroke="#222" stroke-width="1.1" fill="none"/>
<text x="431" y="161.75" text-anchor="middle" class="ns">ns</text>
<text x="475.8" y="161.75" text-anchor="middle" class="ns">ns</text>
<text x="8" y="17.7" class="pl">A</text>
<text x="216.3" y="17.7" class="pl">B</text>
<text x="372.3" y="17.7" class="pl">C</text>
<text x="8.6" y="545" class="pl">D</text>
<path d="M54.4 555.9V702.55" stroke="#111" stroke-width="1.3" fill="none"/>
<path d="M51 701.9H303.7" stroke="#111" stroke-width="1.3" fill="none"/>
<text x="47.9" y="704.9" text-anchor="end" class="tkx">0</text>
<path d="M51 673.3H54.4" stroke="#111" stroke-width="1.1" fill="none"/>
<text x="47.9" y="676.6" text-anchor="end" class="tkx">2</text>
<path d="M51 645H54.4" stroke="#111" stroke-width="1.1" fill="none"/>
<text x="47.9" y="648.3" text-anchor="end" class="tkx">4</text>
<path d="M51 616.7H54.4" stroke="#111" stroke-width="1.1" fill="none"/>
<text x="47.9" y="620" text-anchor="end" class="tkx">6</text>
<path d="M51 588.4H54.4" stroke="#111" stroke-width="1.1" fill="none"/>
<text x="47.9" y="591.7" text-anchor="end" class="tkx">8</text>
<path d="M51 560.1H54.4" stroke="#111" stroke-width="1.1" fill="none"/>
<text x="47.9" y="563.4" text-anchor="end" class="tkx">10</text>
<path d="M54.4 701.9V705.2" stroke="#111" stroke-width="1.1" fill="none"/>
<text x="54.4" y="716.9" text-anchor="middle" class="tkx">10</text>
<path d="M115.57 701.9V705.2" stroke="#111" stroke-width="1.1" fill="none"/>
<text x="115.57" y="716.9" text-anchor="middle" class="tkx">20</text>
<path d="M176.75 701.9V705.2" stroke="#111" stroke-width="1.1" fill="none"/>
<text x="176.75" y="716.9" text-anchor="middle" class="tkx">30</text>
<path d="M237.92 701.9V705.2" stroke="#111" stroke-width="1.1" fill="none"/>
<text x="237.92" y="716.9" text-anchor="middle" class="tkx">40</text>
<path d="M299.1 701.9V705.2" stroke="#111" stroke-width="1.1" fill="none"/>
<text x="299.1" y="716.9" text-anchor="middle" class="tkx">50</text>
<text x="179" y="731.8" text-anchor="middle" class="bmi" textLength="16.4" lengthAdjust="spacingAndGlyphs">BMI</text>
<text transform="translate(17.5 629.3) rotate(-90)" text-anchor="middle" class="yl2" textLength="92.2" lengthAdjust="spacingAndGlyphs">Ratio of CD19+ CD27+</text>
<text transform="translate(30.9 629.1) rotate(-90)" text-anchor="middle" class="yl2" textLength="84.6" lengthAdjust="spacingAndGlyphs">to CD19+ CD27- cells</text>
<text x="233.9" y="558.7" class="st" textLength="43.1" lengthAdjust="spacingAndGlyphs">slope -0.06</text>
<text x="233.9" y="571.1" class="st" textLength="57.3" lengthAdjust="spacingAndGlyphs">R square 0.047</text>
<text x="233.9" y="583.7" class="st" textLength="43.4" lengthAdjust="spacingAndGlyphs">p= 0.23; ns</text>
<path d="M88.7 645.8L252.5 668.5" stroke="#000" stroke-width="1.4" fill="none"/>
<ellipse cx="133.9" cy="605.4" rx="3.05" ry="2.8" fill="#a60022"/>
<ellipse cx="137.9" cy="614.9" rx="3.05" ry="2.8" fill="#a60022"/>
<ellipse cx="163.2" cy="628.1" rx="3.05" ry="2.8" fill="#a60022"/>
<ellipse cx="124.7" cy="637.4" rx="3.05" ry="2.8" fill="#a60022"/>
<ellipse cx="151.6" cy="639.6" rx="3.05" ry="2.8" fill="#a60022"/>
<ellipse cx="143.2" cy="643.2" rx="3.05" ry="2.8" fill="#a60022"/>
<ellipse cx="142.2" cy="645.7" rx="3.05" ry="2.8" fill="#a60022"/>
<ellipse cx="138.1" cy="654" rx="3.05" ry="2.8" fill="#a60022"/>
<ellipse cx="88.5" cy="658.8" rx="3.05" ry="2.8" fill="#a60022"/>
<ellipse cx="158.9" cy="659.4" rx="3.05" ry="2.8" fill="#a60022"/>
<ellipse cx="170.6" cy="657.3" rx="3.05" ry="2.8" fill="#a60022"/>
<ellipse cx="149" cy="666" rx="3.05" ry="2.8" fill="#a60022"/>
<ellipse cx="160.3" cy="667" rx="3.05" ry="2.8" fill="#a60022"/>
<ellipse cx="172.8" cy="668.8" rx="3.05" ry="2.8" fill="#a60022"/>
<ellipse cx="111.2" cy="677" rx="3.05" ry="2.8" fill="#a60022"/>
<ellipse cx="127.7" cy="681" rx="3.05" ry="2.8" fill="#a60022"/>
<ellipse cx="168.2" cy="677.1" rx="3.05" ry="2.8" fill="#a60022"/>
<ellipse cx="174.7" cy="675.9" rx="3.05" ry="2.8" fill="#a60022"/>
<ellipse cx="149.7" cy="689" rx="3.05" ry="2.8" fill="#a60022"/>
<ellipse cx="188.2" cy="645.6" rx="3.05" ry="2.8" fill="#a60022"/>
<ellipse cx="179.9" cy="579.9" rx="3.05" ry="2.8" fill="#a60022"/>
<ellipse cx="203.7" cy="645.8" rx="3.05" ry="2.8" fill="#a60022"/>
<ellipse cx="200.3" cy="650.2" rx="3.05" ry="2.8" fill="#a60022"/>
<ellipse cx="242.3" cy="637" rx="3.05" ry="2.8" fill="#a60022"/>
<ellipse cx="242.5" cy="642.3" rx="3.05" ry="2.8" fill="#a60022"/>
<ellipse cx="242" cy="662.4" rx="3.05" ry="2.8" fill="#a60022"/>
<ellipse cx="209.8" cy="672.7" rx="3.05" ry="2.8" fill="#a60022"/>
<ellipse cx="197.9" cy="681.7" rx="3.05" ry="2.8" fill="#a60022"/>
<ellipse cx="206.7" cy="681.3" rx="3.05" ry="2.8" fill="#a60022"/>
<ellipse cx="197.1" cy="688.3" rx="3.05" ry="2.8" fill="#a60022"/>
<ellipse cx="197.9" cy="689.8" rx="3.05" ry="2.8" fill="#a60022"/>
<ellipse cx="233.6" cy="685.2" rx="3.05" ry="2.8" fill="#a60022"/>
<ellipse cx="252.5" cy="697.3" rx="3.05" ry="2.8" fill="#a60022"/>
</svg>
</body></html>
